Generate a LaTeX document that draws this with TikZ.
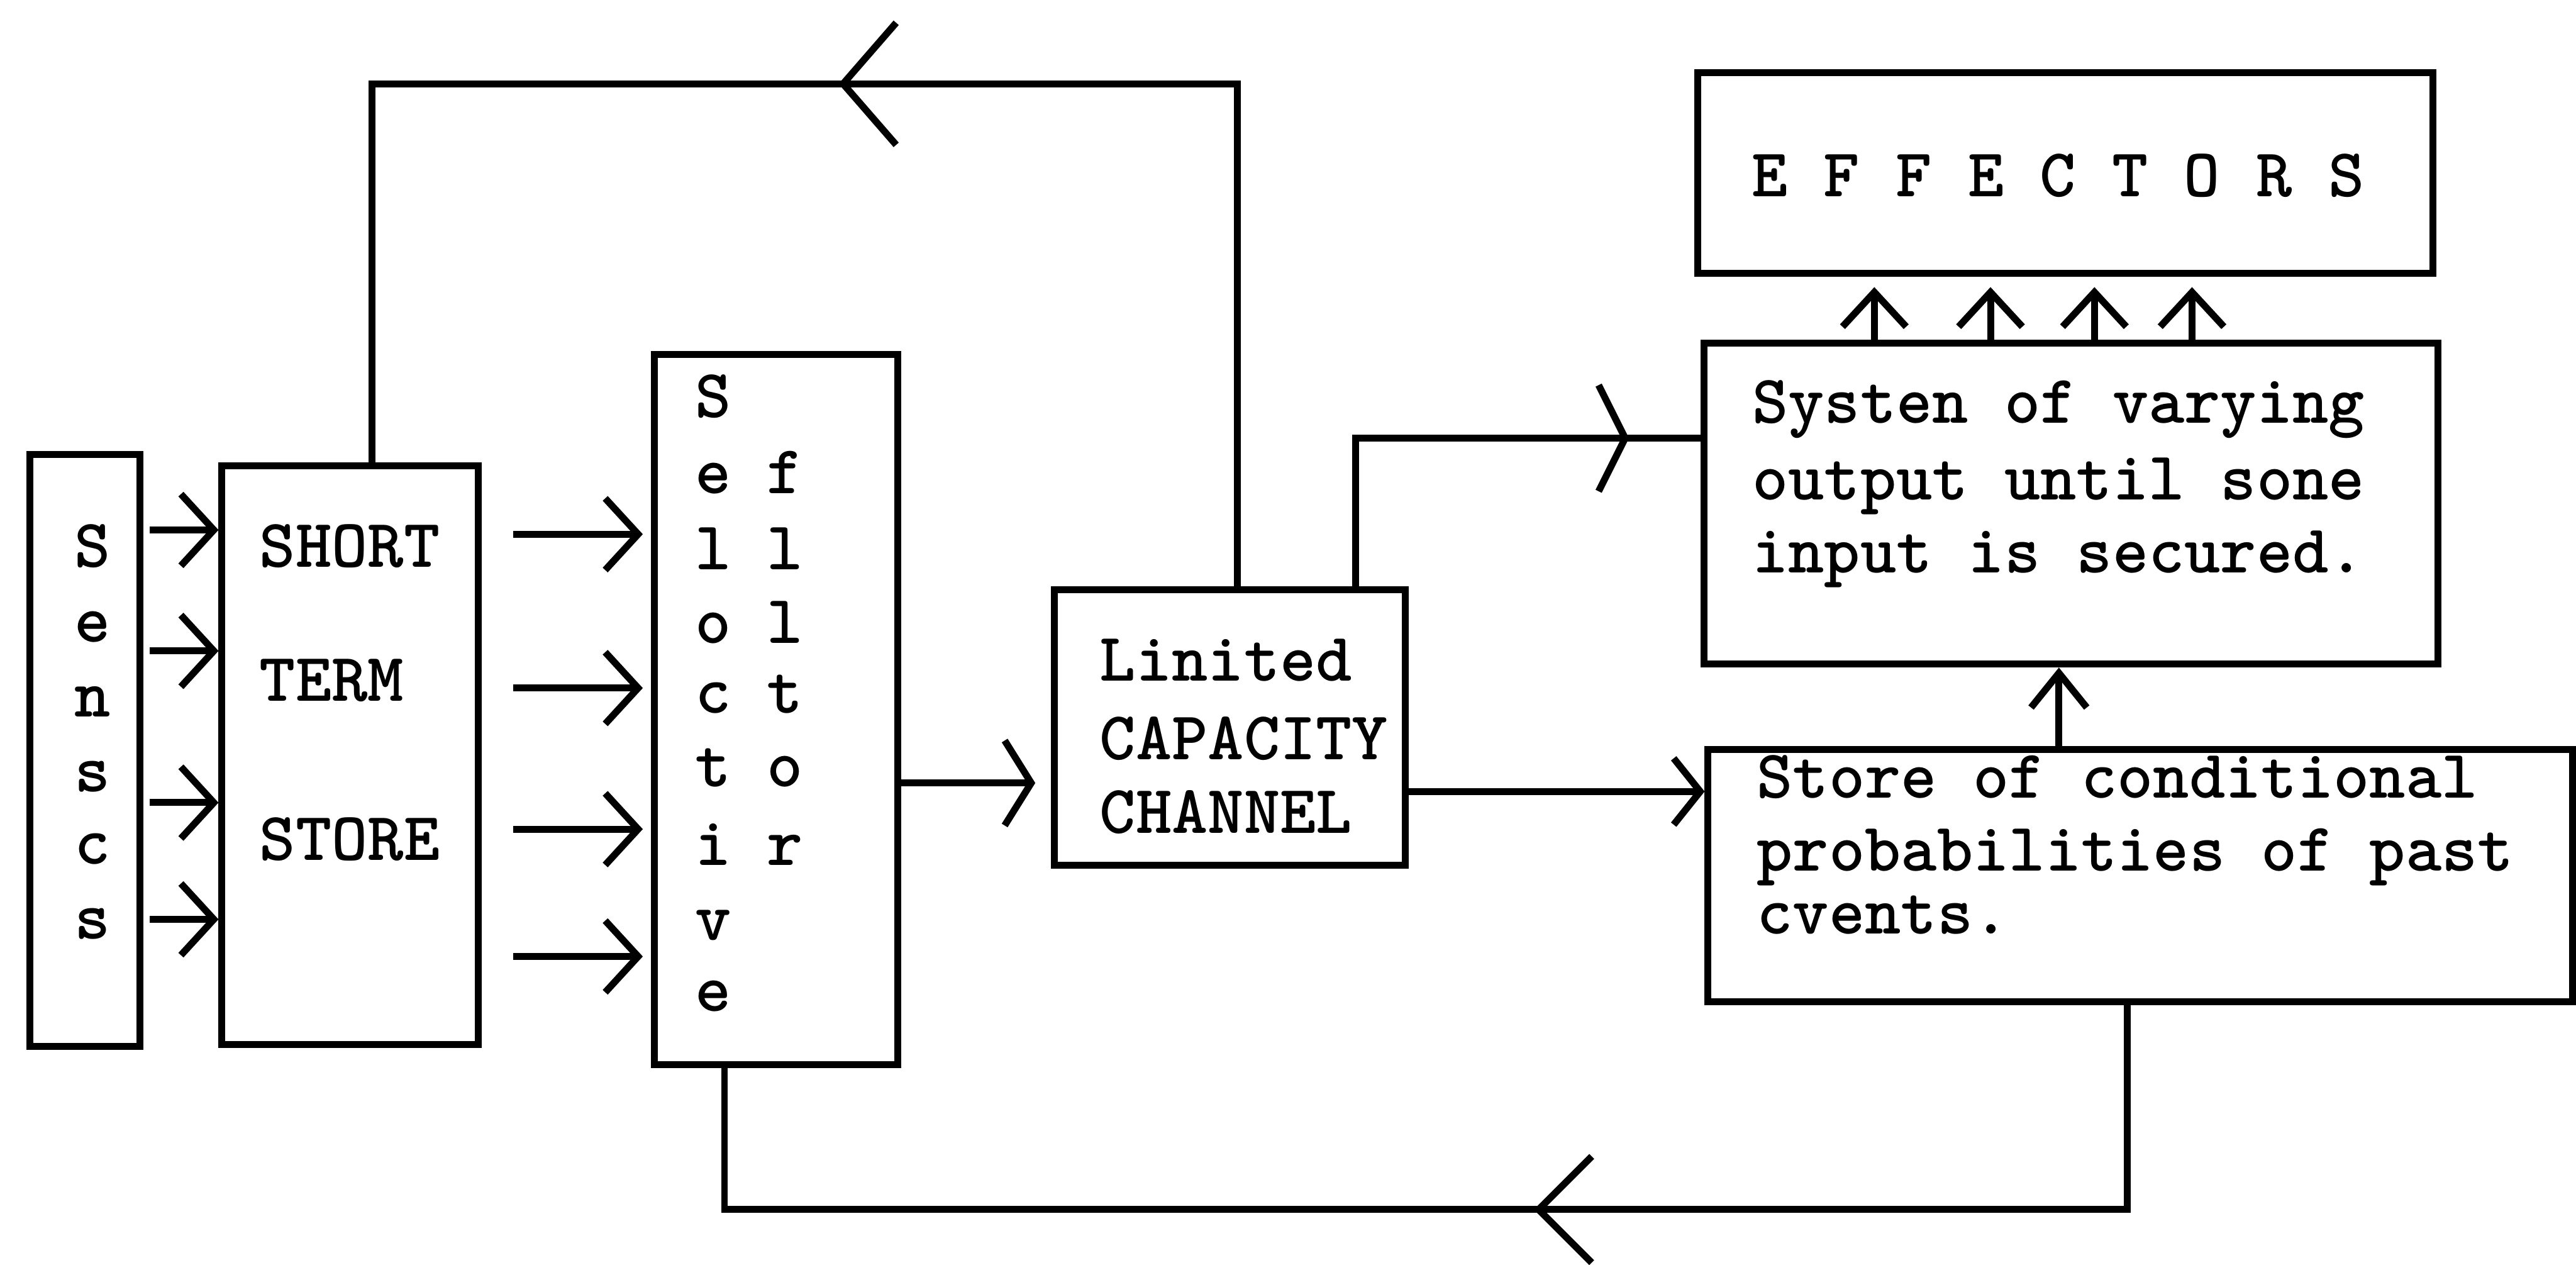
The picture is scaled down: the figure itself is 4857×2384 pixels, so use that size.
\documentclass[tikz,border=0pt]{standalone}
\usetikzlibrary{arrows.meta,decorations.markings,calc}
\begin{document}
\begin{tikzpicture}[x=0.01cm,y=-0.01cm,
  line/.style={line width=0.13cm},
  box/.style={draw,line width=0.13cm,inner sep=0pt,anchor=north west},
  txt/.style={inner sep=0pt,anchor=base west,font=\ttfamily\bfseries\fontsize{36.8}{40}\selectfont},
  ctxt/.style={txt,anchor=base},
  sarr/.style={line,-{Straight Barb[length=0.62cm,width=1.35cm]}},
  midarr/.style 2 args={line,postaction={decorate,decoration={markings,mark=at position #1 with {\arrow{Straight Barb[length=#2]}}}}}
]
\useasboundingbox (0,0) rectangle (4857,2384);
\fill[white] (0,0) rectangle (4857,2384);

% boxes
\node[box,minimum width=2.07cm,minimum height=11.15cm] (sen) at (50,850) {};
\node[box,minimum width=4.83cm,minimum height=10.90cm] (stm) at (412,872) {};
\node[box,minimum width=4.59cm,minimum height=13.38cm] (filt) at (1227,662) {};
\node[box,minimum width=6.61cm,minimum height=5.19cm] (lim) at (1982,1105) {};
\node[box,minimum width=13.85cm,minimum height=3.78cm] (eff) at (3195,130) {};
\node[box,minimum width=13.83cm,minimum height=6.05cm] (sys) at (3206,640) {};
\node[box,minimum width=16.29cm,minimum height=4.76cm] (sto) at (3214,1406) {};

% texts
\node[ctxt] (s1) at (174,1069) {S};
\node[ctxt] (s2) at (174,1210) {e};
\node[ctxt] (s3) at (174,1351) {n};
\node[ctxt] (s4) at (174,1492) {s};
\node[ctxt] (s5) at (174,1629) {c};
\node[ctxt] (s6) at (174,1770) {s};

\node[txt] (m1) at (489,1069) {SHORT};
\node[txt] (m2) at (489,1322) {TERM};
\node[txt] (m3) at (489,1621) {STORE};

\node[txt] (f1) at (1310,787) {S};
\node[txt] (f2) at (1310,930) {e f};
\node[txt] (f3) at (1310,1074) {l l};
\node[txt] (f4) at (1310,1212) {o l};
\node[txt] (f5) at (1310,1344) {c t};
\node[txt] (f6) at (1310,1483) {t o};
\node[txt] (f7) at (1310,1631) {i r};
\node[txt] (f8) at (1310,1772) {v};
\node[txt] (f9) at (1310,1906) {e};

\node[txt] (l1) at (2073,1284) {Linited};
\node[txt] (l2) at (2073,1432) {CAPACITY};
\node[txt] (l3) at (2073,1571) {CHANNEL};

\node[txt] (e1) at (3302,371) {E F F E C T O R S};

\node[txt] (y1) at (3303,797) {Systen of varying};
\node[txt] (y2) at (3303,942) {output until sone};
\node[txt] (y3) at (3303,1080) {input is secured.};

\node[txt] (t1) at (3312,1504) {Store of conditional};
\node[txt] (t2) at (3312,1642) {probabilities of past};
\node[txt] (t3) at (3312,1760) {cvents.};

% senses -> short term store
\foreach \yy in {999,1227,1513,1733} {
  \coordinate (q) at (0,\yy);
  \draw[sarr,shorten <=0.12cm] (sen.east |- q) -- (stm.west |- q);
}
% short term store -> selective filter
\foreach \yy in {1007,1297,1563,1803} {
  \coordinate (q) at (0,\yy);
  \draw[sarr,shorten <=0.59cm,shorten >=0.15cm] (stm.east |- q) -- (filt.west |- q);
}
% filter -> limited channel
\coordinate (qa) at (0,1476);
\draw[line,-{Straight Barb[length=0.5cm,width=1.6cm]},shorten >=0.3cm] (filt.east |- qa) -- (lim.west |- qa);
% limited channel -> store
\coordinate (qb) at (0,1492);
\draw[line,-{Straight Barb[length=0.5cm,width=1.25cm]}] (lim.east |- qb) -- (sto.west |- qb);
% system -> effectors
\foreach \xx in {3534,3753,3949,4133} {
  \coordinate (q) at (\xx,0);
  \draw[line,-{Straight Barb[length=0.65cm,width=1.2cm]},shorten >=0.2cm] (sys.north -| q) -- (eff.south -| q);
}
% store -> system
\coordinate (qc) at (3882,0);
\draw[line,-{Straight Barb[length=0.65cm,width=1.05cm]}] (sto.north -| qc) -- (sys.south -| qc);

% feedback loop on top: limited channel -> short term store
\coordinate (x1) at (2333,0);
\coordinate (x2) at (701,0);
\coordinate (c1) at (2333,158);
\coordinate (c2) at (701,158);
\draw[midarr={16.98cm}{1.0cm,width=2.3cm}] (lim.north -| x1) -- (c1) -- (c2) -- (stm.north -| x2);

% limited channel -> system of varying output
\coordinate (x3) at (2556,0);
\coordinate (c3) at (2556,826);
\draw[midarr={7.94cm}{0.5cm,width=2.0cm}] (lim.north -| x3) -- (c3) -- (sys.west |- c3);

% store -> selective filter (bottom loop)
\coordinate (x4) at (4011,0);
\coordinate (x5) at (1366,0);
\coordinate (c4) at (4011,2280);
\coordinate (c5) at (1366,2280);
\draw[midarr={15.03cm}{1.0cm,width=2.0cm}] (sto.south -| x4) -- (c4) -- (c5) -- (filt.south -| x5);
\end{tikzpicture}
\end{document}
